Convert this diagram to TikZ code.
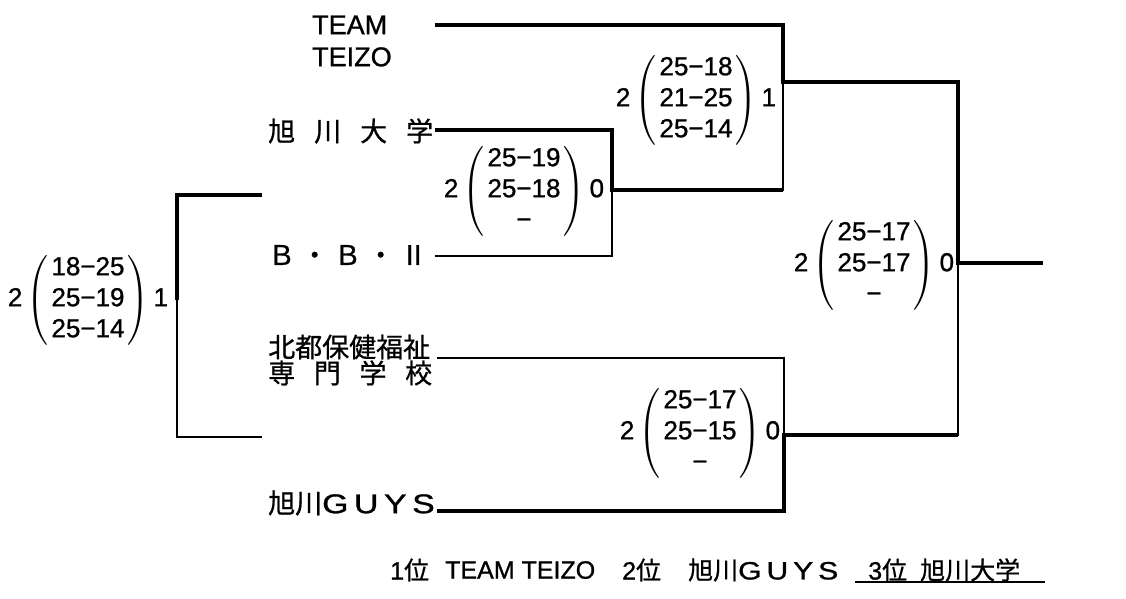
\documentclass[tikz,border=0pt]{standalone}
\usepackage{fontspec}
\usepackage{amsmath}
\usepackage{graphicx}
\setmainfont{Liberation Sans}[FakeBold=1]
\newfontfamily\jp{Noto Sans CJK JP}[FakeBold=0.8]
\newcommand{\marcador}[5]{#1\,$\left(\vcenter{\hbox{\begin{tabular}{@{\hspace{3pt}}c@{\hspace{3pt}}}#2\\#3\\#4\end{tabular}}}\right)$\,#5}
\tikzset{
	equip/.style={font=\fontsize{27}{32}\selectfont, inner sep=0pt, anchor=west},
	equipjp/.style={font=\jp\fontsize{27}{26}\selectfont, inner sep=0pt, anchor=west},
	marc/.style={font=\fontsize{26}{31}\selectfont, inner sep=0pt},
	rang/.style={font=\fontsize{25}{30}\selectfont, inner sep=0pt, anchor=west},
	perd/.style={line width=2pt},
	guanya/.style={line width=4pt},
}
\begin{document}
\begin{tikzpicture}[x=1pt,y=-1pt]
		\useasboundingbox (0,0) rectangle (1126,598);

		% Equips
		\node[equip, align=left] (teizo) at (312,41) {TEAM\\TEIZO};
		\node[equipjp] (asahidai) at (268,131) {\makebox[165pt][s]{旭\hfill 川\hfill 大\hfill 学}};
		\node[equipjp] (bb) at (268,255) {\makebox[159pt][s]{Ｂ\hfill ・\hfill Ｂ\hfill ・\hfill Ⅱ}};
		\node[equipjp, align=left] (hokuto) at (268,360) {北都保健福祉\\\makebox[164pt][s]{専\hfill 門\hfill 学\hfill 校}};
		\node[equipjp] (guys) at (268,503) {旭川\rmfamily\scalebox{1.25}[1]{G\,U\,Y\,S}};

		% Punts del quadre
		\coordinate (T0) at (435,25);
		\coordinate (T1) at (783,25);
		\coordinate (T2) at (783,82);
		\coordinate (A0) at (435,130);
		\coordinate (A1) at (612,130);
		\coordinate (A2) at (612,190);
		\coordinate (S1) at (783,190);
		\coordinate (B0) at (435,256);
		\coordinate (B1) at (612,256);
		\coordinate (H0) at (437,358);
		\coordinate (H1) at (784,358);
		\coordinate (H2) at (784,435);
		\coordinate (G0) at (437,511);
		\coordinate (G1) at (784,511);
		\coordinate (F1) at (958,82);
		\coordinate (F2) at (958,435);
		\coordinate (F3) at (958,263);
		\coordinate (F4) at (1043,263);
		\coordinate (C0) at (262,195);
		\coordinate (C1) at (177,195);
		\coordinate (C2) at (177,437);
		\coordinate (C3) at (262,437);
		\coordinate (C4) at (177,300);

		% Linies primes
		\draw[perd] (A1) -- (B1) -- (B0);
		\draw[perd] (T2) -- (S1) -- (A2);
		\draw[perd] (H0) -- (H1) -- (H2) -- (F2) -- (F3);
		\draw[perd] (C0) -- (C1) -- (C2) -- (C3);

		% Camins guanyadors
		\draw[guanya] (A0) -- (A1) -- (A2) -- (S1);
		\draw[guanya] (T0) -- (T1) -- (T2) -- (F1) -- (F3) -- (F4);
		\draw[guanya] (G0) -- (G1) -- (H2) -- (F2);
		\draw[guanya] (C0) -- (C1) -- (C4);

		% Resultats
		\node[marc] (m1) at (524,191) {\marcador{2}{25−19}{25−18}{−}{0}};
		\node[marc] (m2) at (696,100) {\marcador{2}{25−18}{21−25}{25−14}{1}};
		\node[marc] (m3) at (874,265) {\marcador{2}{25−17}{25−17}{−}{0}};
		\node[marc] (m4) at (700,433) {\marcador{2}{25−17}{25−15}{−}{0}};
		\node[marc] (m5) at (88,300) {\marcador{2}{18−25}{25−19}{25−14}{1}};

		% Classificacio
		\node[rang] (r1) at (390,570) {1{\jp 位}};
		\node[rang] (r1e) at (445,570) {TEAM TEIZO};
		\node[rang] (r2) at (622,570) {2{\jp 位}};
		\node[rang] (r2e) at (688,570) {{\jp 旭川}\scalebox{1.2}[1]{G\,U\,Y\,S}};
		\node[rang] (r3) at (868,570) {3{\jp 位}};
		\node[rang] (r3e) at (920,570) {\jp 旭川大学};
		\coordinate (U0) at (855,582);
		\coordinate (U1) at (1045,582);
		\draw[perd] (U0) -- (U1);
	\end{tikzpicture}
\end{document}
